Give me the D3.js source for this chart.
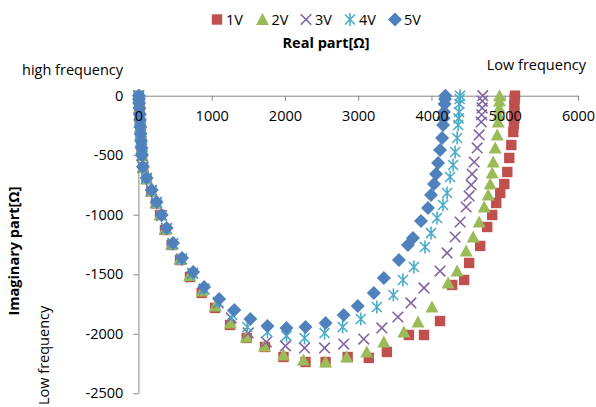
<!DOCTYPE html>
<html>
<head>
<meta charset="utf-8">
<script src="https://cdn.jsdelivr.net/npm/d3@7"></script>
<style>
  body { margin: 0; background: #fff; }
  svg { display: block; font-family: "Open Sans", sans-serif; }
</style>
</head>
<body>
<div id="chart"></div>
<script>
// impedance readings [real, imaginary] from high frequency to low frequency
const v1 = [[5,0],[8,-28],[10,-61],[14,-103],[18,-153],[22,-204],[26,-263],[31,-322],[37,-385],[45,-445],[50,-505],[65,-605],[110,-700],[175,-805],[240,-905],[295,-1002],[363,-1128],[455,-1254],[568,-1380],[704,-1523],[864,-1657],[1046,-1783],[1251,-1926],[1478,-2035],[1728,-2111],[1980,-2195],[2281,-2237],[2555,-2237],[2856,-2195],[3144,-2203],[3391,-2153],[3692,-2010],[3898,-2010],[4117,-1893],[4282,-1590],[4446,-1548],[4514,-1405],[4665,-1262],[4761,-1103],[4829,-1002],[4884,-901],[4939,-817],[4994,-742],[5035,-641],[5062,-523],[5090,-414],[5117,-305],[5125,-240],[5131,-187],[5131,-130],[5131,-78],[5135,-30],[5140,0]];
const v2 = [[5,0],[8,-28],[10,-61],[14,-103],[18,-153],[22,-204],[26,-263],[31,-322],[37,-385],[45,-445],[50,-505],[65,-605],[110,-700],[175,-800],[240,-900],[295,-1000],[363,-1122],[455,-1248],[568,-1372],[700,-1510],[870,-1641],[1048,-1767],[1254,-1909],[1473,-2027],[1719,-2102],[1980,-2178],[2254,-2220],[2555,-2237],[2843,-2195],[3117,-2153],[3350,-2069],[3624,-1985],[3816,-1901],[4007,-1775],[4227,-1573],[4350,-1473],[4473,-1305],[4569,-1187],[4651,-1061],[4720,-935],[4774,-834],[4802,-742],[4829,-649],[4843,-557],[4870,-439],[4897,-330],[4911,-221],[4918,-160],[4925,-103],[4928,-45],[4930,0]];
const v3 = [[5,0],[8,-28],[10,-61],[14,-103],[18,-153],[22,-204],[26,-263],[31,-322],[37,-385],[45,-445],[50,-505],[63,-600],[112,-693],[180,-795],[248,-896],[316,-1005],[384,-1115],[470,-1242],[590,-1370],[740,-1490],[897,-1624],[1089,-1741],[1267,-1867],[1500,-1993],[1747,-2069],[2007,-2102],[2268,-2119],[2541,-2119],[2802,-2086],[3076,-2044],[3323,-1951],[3542,-1859],[3720,-1741],[3898,-1615],[4117,-1473],[4213,-1321],[4323,-1187],[4391,-1061],[4473,-935],[4514,-842],[4542,-750],[4555,-658],[4583,-557],[4624,-439],[4651,-330],[4679,-221],[4685,-160],[4692,-103],[4695,-45],[4700,0]];
const v4 = [[5,0],[8,-28],[10,-61],[14,-103],[18,-153],[22,-204],[26,-263],[30,-322],[36,-380],[44,-439],[48,-498],[62,-596],[112,-695],[181,-796],[249,-898],[318,-1008],[386,-1118],[470,-1245],[590,-1375],[740,-1495],[890,-1625],[1089,-1733],[1281,-1842],[1486,-1943],[1761,-1985],[2021,-2018],[2268,-2035],[2541,-1993],[2788,-1943],[3035,-1876],[3254,-1775],[3480,-1674],[3610,-1548],[3761,-1439],[3911,-1271],[3994,-1154],[4076,-1027],[4158,-918],[4213,-817],[4254,-683],[4295,-582],[4323,-473],[4350,-355],[4364,-246],[4370,-190],[4377,-137],[4380,-70],[4385,-28],[4390,0]];
const v5 = [[5,0],[8,-28],[10,-61],[14,-103],[18,-153],[22,-204],[26,-263],[30,-322],[36,-380],[44,-439],[48,-498],[62,-596],[112,-691],[181,-792],[249,-893],[318,-1002],[386,-1111],[473,-1237],[596,-1363],[747,-1481],[897,-1607],[1103,-1708],[1309,-1800],[1528,-1876],[1761,-1935],[2021,-1951],[2281,-1943],[2555,-1909],[2802,-1842],[2994,-1767],[3213,-1658],[3350,-1532],[3556,-1381],[3679,-1254],[3748,-1195],[3857,-1052],[3953,-943],[3994,-834],[4035,-742],[4062,-658],[4090,-566],[4117,-456],[4145,-355],[4158,-246],[4165,-190],[4172,-137],[4180,-70],[4185,-28],[4190,0]];

const seriesNames = ["1V", "2V", "3V", "4V", "5V"];
const seriesData = [v1, v2, v3, v4, v5];
const xTicks = [0, 1000, 2000, 3000, 4000, 5000, 6000];
const yTicks = [0, -500, -1000, -1500, -2000, -2500];

const W = 596, H = 407;
const colors = ["#C0504D", "#9BBB59", "#8064A2", "#4BACC6", "#4F81BD"];
const shapes = [
  "M-5.2,-5.2H5.2V5.2H-5.2Z",
  "M0,-6.5L6.5,5.5H-6.5Z",
  "M-5.3,-5.3L5.3,5.3M-5.3,5.3L5.3,-5.3",
  "M-5,-5L5,5M-5,5L5,-5M0,-6.5L0,6.5",
  "M0,-7L7,0L0,7L-7,0Z"
];
const stroked = [false, false, true, true, false];

const svg = d3.select("#chart").append("svg")
  .attr("width", W)
  .attr("height", H);

const x = d3.scaleLinear().domain([0, 6000]).range([138.4, 578]);
const y = d3.scaleLinear().domain([0, -2500]).range([95.7, 393.3]);

const fontSize = "14.5px";
const plain = d => String(d);

// axis lines and ticks (behind the markers)
const xAxis = d3.axisBottom(x).tickValues(xTicks).tickFormat(plain).tickSize(5).tickSizeOuter(0).tickPadding(10);
const yAxis = d3.axisLeft(y).tickValues(yTicks).tickFormat(plain).tickSize(5).tickSizeOuter(0).tickPadding(10);

function styleAxis(g) {
  g.select(".domain").attr("stroke", "#868686");
  g.selectAll(".tick line").attr("stroke", "#868686");
  g.selectAll(".tick text").attr("fill", "#000").style("font-size", fontSize)
    .style("font-family", "'Open Sans', sans-serif");
}

const gxLine = svg.append("g").attr("transform", `translate(0,${y(0)})`).call(xAxis).call(styleAxis);
gxLine.selectAll(".tick text").remove();
const gyLine = svg.append("g").attr("transform", `translate(${x(0)},0)`).call(yAxis).call(styleAxis);
gyLine.selectAll(".tick text").remove();

// markers
seriesData.forEach((data, i) => {
  const g = svg.append("g").attr("class", "series-" + i);
  g.selectAll("path")
    .data(data)
    .enter().append("path")
    .attr("transform", d => `translate(${x(d[0])},${y(d[1])})`)
    .attr("d", shapes[i])
    .attr("fill", stroked[i] ? "none" : colors[i])
    .attr("stroke", stroked[i] ? colors[i] : "none")
    .attr("stroke-width", 1.6);
});

// tick labels on top
const gxText = svg.append("g").attr("transform", `translate(0,${y(0)})`).call(xAxis).call(styleAxis);
gxText.select(".domain").remove();
gxText.selectAll(".tick line").remove();
const gyText = svg.append("g").attr("transform", `translate(${x(0)},0)`).call(yAxis).call(styleAxis);
gyText.select(".domain").remove();
gyText.selectAll(".tick line").remove();

// legend
const legendX = [217, 262.5, 306, 350, 395];
const legend = svg.append("g");
seriesNames.forEach((name, i) => {
  legend.append("path")
    .attr("transform", `translate(${legendX[i]},19.5)`)
    .attr("d", shapes[i])
    .attr("fill", stroked[i] ? "none" : colors[i])
    .attr("stroke", stroked[i] ? colors[i] : "none")
    .attr("stroke-width", 1.6);
  legend.append("text")
    .attr("x", legendX[i] + 9)
    .attr("y", 25)
    .style("font-size", fontSize)
    .attr("fill", "#000")
    .text(name);
});

// titles and notes
svg.append("text")
  .attr("x", 326).attr("y", 48)
  .attr("text-anchor", "middle")
  .style("font-size", fontSize).style("font-weight", "bold")
  .text("Real part[Ω]");

svg.append("text")
  .attr("transform", "translate(19,251) rotate(-90)")
  .attr("text-anchor", "middle")
  .style("font-size", fontSize).style("font-weight", "bold")
  .text("Imaginary part[Ω]");

svg.append("text")
  .attr("x", 22).attr("y", 75)
  .style("font-size", fontSize)
  .text("high frequency");

svg.append("text")
  .attr("x", 586).attr("y", 70)
  .attr("text-anchor", "end")
  .style("font-size", fontSize)
  .text("Low frequency");

svg.append("text")
  .attr("transform", "translate(49,405) rotate(-90)")
  .style("font-size", fontSize)
  .text("Low frequency");
</script>
</body>
</html>
